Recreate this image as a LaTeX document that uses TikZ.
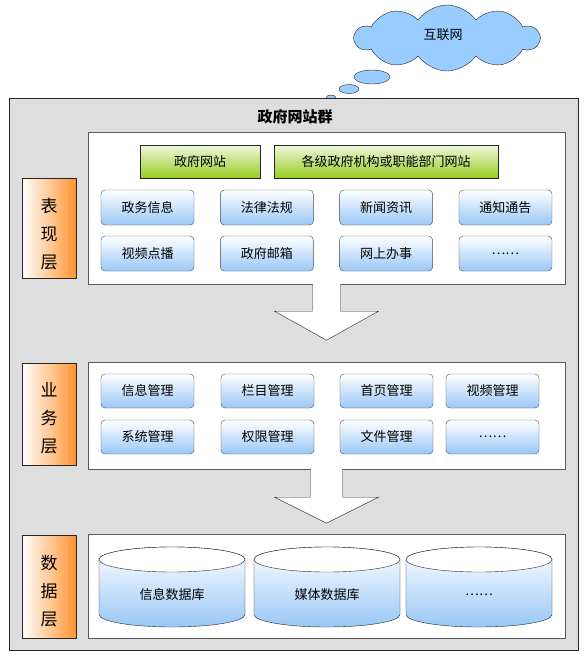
\documentclass[tikz,border=0pt]{standalone}
\usepackage{fontspec}
\newfontfamily\cjk{Noto Sans CJK SC}
\usetikzlibrary{shapes.geometric, shapes.symbols, positioning}

\definecolor{panelgray}{HTML}{DEDEDE}
\definecolor{boxblue}{HTML}{99C7F7}
\definecolor{boxgreen}{HTML}{99CC22}
\definecolor{layerorange}{HTML}{FF9430}
\definecolor{cloudblue}{HTML}{99CCFF}

\tikzset{
  cjktext/.style={font=\cjk\fontsize{13}{15}\selectfont},
  panel/.style={draw=black!65, fill=white, minimum width=477pt, inner sep=0pt},
  layerbox/.style={draw=black!85, left color=white, right color=layerorange,
    minimum width=54pt, inner sep=0pt},
  layertext/.style={align=center, font=\cjk\fontsize{17}{28}\selectfont},
  sitebox/.style={cjktext, draw=black!85, top color=boxgreen!15, bottom color=boxgreen,
    minimum height=33pt, inner sep=0pt},
  funcbox/.style={cjktext, draw=black!70, rounded corners=4pt, top color=white,
    bottom color=boxblue, minimum width=93pt, minimum height=35pt, inner sep=0pt},
  dbbody/.style={draw=black!85, top color=white, bottom color=boxblue},
  bubble/.style={ellipse, draw=black!85, fill=cloudblue, inner sep=0pt},
  bigarrow/.style={draw=black!85, fill=white, line join=miter}
}

\begin{document}
\begin{tikzpicture}[x=1pt, y=-1pt]
\useasboundingbox (0,0) rectangle (588,664);

% internet cloud
\node[cloud, cloud puffs=10, cloud puff arc=110, aspect=2.6, draw=black!85, fill=cloudblue,
  minimum width=184pt, minimum height=66pt] (net) at (447,38) {};
\node[cjktext] at (443,35) {互联网};
\node[bubble, minimum width=36pt, minimum height=14pt] (b1) at (372,77) {};
\node[bubble, minimum width=20pt, minimum height=9pt] (b2) at (349,89) {};
\node[bubble, minimum width=10pt, minimum height=6pt] (b3) at (331,98) {};

% website group
\draw[draw=black!85, fill=panelgray] (9,98) rectangle (578,650);
\node[font=\cjk\bfseries\fontsize{15}{17}\selectfont] (title) at (295,117) {政府网站群};

% presentation layer
\node[panel, minimum height=152pt] (pres) at (326.5,208) {};
\node[layerbox, minimum height=100pt] (preslabel) at (49,228) {};
\node[layertext] at ([yshift=-6pt]preslabel.center) {表\\现\\层};
\node[sitebox, minimum width=120pt] (gov) at (200,161.5) {政府网站};
\node[sitebox, minimum width=224pt] (dept) at (386,161.5) {各级政府机构或职能部门网站};
\foreach \name/\txt [count=\i] in {info/政务信息, law/法律法规, news/新闻资讯, notice/通知通告}
  \node[funcbox] (\name) at ({147.5+119.33*(\i-1)},207.5) {\txt};
\foreach \name/\txt [count=\i] in {video/视频点播, mail/政府邮箱, online/网上办事, pmore/……}
  \node[funcbox] (\name) at ({147.5+119.33*(\i-1)},253.5) {\txt};

% business layer
\node[panel, minimum height=107pt] (biz) at (326.5,415.5) {};
\node[layerbox, minimum height=102pt] (bizlabel) at (49,414) {};
\node[layertext] at ([yshift=-4pt]bizlabel.center) {业\\务\\层};
\foreach \name/\txt/\x in {infomgr/信息管理/147.5, colmgr/栏目管理/267.5, homemgr/首页管理/386.5, vidmgr/视频管理/492.5}
  \node[funcbox, minimum height=34pt] (\name) at (\x,391) {\txt};
\foreach \name/\txt/\x in {sysmgr/系统管理/147.5, authmgr/权限管理/267.5, filemgr/文件管理/386.5, bmore/……/492.5}
  \node[funcbox, minimum height=34pt] (\name) at (\x,437) {\txt};

% data layer
\node[panel, minimum height=104pt] (data) at (326.5,586) {};
\node[layerbox, minimum height=103pt] (datalabel) at (49,586.5) {};
\node[layertext] at ([yshift=-5pt]datalabel.center) {数\\据\\层};
\foreach \name/\txt/\x in {infodb/信息数据库/172, mediadb/媒体数据库/327, dmore/……/479}{
  \shade[dbbody] (\x-73,559.5) -- (\x-73,614.5)
    arc[start angle=180, end angle=0, x radius=73, y radius=12.5] -- (\x+73,559.5)
    arc[start angle=0, end angle=-180, x radius=73, y radius=12.5] -- cycle;
  \draw[draw=black!85, fill=white] (\x,559.5) ellipse[x radius=73, y radius=12.5];
  \node[cjktext] (\name) at (\x,595) {\txt};
}

% flow arrows
\draw[bigarrow] (pres.south) ++(-14,0) -- ++(0,27) -- ++(-38,0) -- ++(52,29)
  -- ++(52,-29) -- ++(-38,0) -- ++(0,-27);
\draw[bigarrow] (biz.south) ++(-16,0) -- ++(0,28) -- ++(-36,0) -- ++(52,26)
  -- ++(52,-26) -- ++(-36,0) -- ++(0,-28);
\end{tikzpicture}
\end{document}
